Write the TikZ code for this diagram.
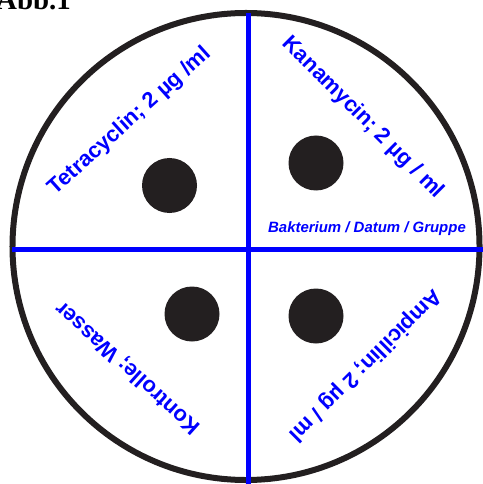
\documentclass[tikz,border=0pt]{standalone}
\usepackage{fontspec}
\setmainfont{Liberation Sans}
\newfontfamily\abbfont{Liberation Serif}
\definecolor{ink}{HTML}{231F20}
\begin{document}
\begin{tikzpicture}[x=1bp,y=-1bp,
  lab/.style={text=blue, font=\bfseries\fontsize{22}{22}\selectfont, inner sep=0pt},
  dot/.style={circle, fill=ink, minimum size=55bp, inner sep=0pt},
  divider/.style={draw=blue, line width=5bp}]
\useasboundingbox (0,0) rectangle (483,484);
\node[anchor=base west, inner sep=0pt, font=\abbfont\bfseries\fontsize{29}{29}\selectfont] (abb) at (-4,10) {Abb.1};
\draw[ink, line width=6bp] (246,246.5) circle[radius=233.5bp];
\coordinate (vtop) at (248,13);
\coordinate (vbot) at (248,484);
\coordinate (hl) at (12,249);
\coordinate (hr) at (483,249);
\draw[divider] (vtop) -- (vbot);
\draw[divider] (hl) -- (hr);
\node[dot] (d1) at (169.5,185.5) {};
\node[dot] (d2) at (316,163) {};
\node[dot] (d3) at (192,314) {};
\node[dot] (d4) at (316,316) {};
\node[lab, rotate=42] (tet) at (130,121) {Tetracyclin; 2 µg /ml};
\node[lab, rotate=-45] (kan) at (363,118) {Kanamycin; 2 µg / ml};
\node[lab, rotate=138] (kon) at (128,368) {Kontrolle; Wasser};
\node[lab, rotate=-135] (amp) at (365,365) {Ampicillin; 2 µg / ml};
\node[text=blue, inner sep=0pt, font=\bfseries\itshape\fontsize{15}{15}\selectfont] (bdg) at (367,229) {Bakterium / Datum / Gruppe};
\end{tikzpicture}
\end{document}
